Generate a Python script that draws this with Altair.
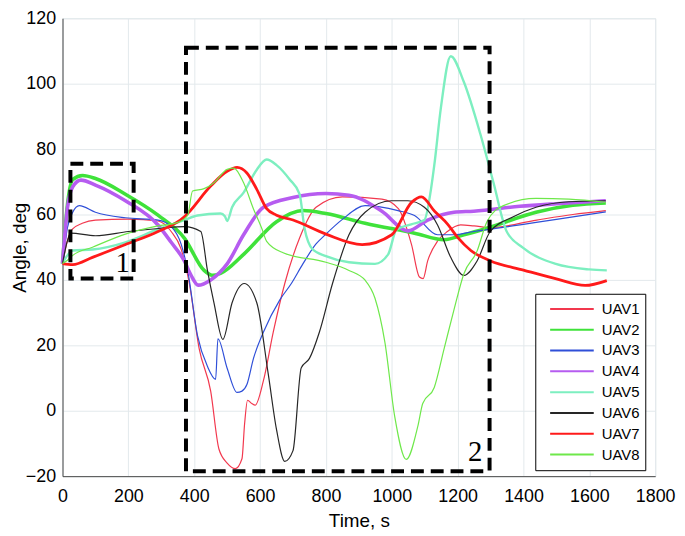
import altair as alt
import pandas as pd

names = ["UAV1", "UAV2", "UAV3", "UAV4", "UAV5", "UAV6", "UAV7", "UAV8"]
colors = ["#f2384e", "#3fe23a", "#2f4fd8", "#b65cf0", "#7defc0", "#262626", "#ff1a1a", "#6ee84a"]
widths = [1.2, 3.6, 1.2, 3.6, 2.4, 1.2, 2.8, 1.2]

uav1_t = [0, 15, 30, 60, 100, 200, 290, 330, 360, 385, 415, 450, 475, 500, 525, 545, 553, 562, 575, 585,
          610, 640, 675, 720, 770, 850, 970, 1020, 1060, 1084, 1095, 1109, 1140, 1169, 1209, 1250, 1300,
          1440, 1550, 1650]
uav1_y = [45, 52, 55.5, 57.3, 58.3, 58.6, 58, 54.8, 49.5, 39, 19, 6, -11.7, -16, -17.7, -14.7, -4, 3.2, 2.2,
          1.7, 9.1, 24, 38.9, 52.8, 62.2, 65.4, 64.7, 61.8, 50.8, 40.9, 40.4, 45.8, 52, 54.8, 56.8, 56.5, 56,
          58.3, 60, 61.2]

uav2_t = [0, 15, 31, 61, 100, 191, 290, 370, 430, 455, 480, 550, 650, 730, 800, 919, 1069, 1159, 1219, 1289,
          1438, 1550, 1650]
uav2_y = [45, 63, 70.7, 71.9, 71, 66.2, 59.8, 52.8, 42.9, 41.4, 42, 47.8, 57.8, 61.2, 60.3, 57.3, 54.3, 52.3,
          53.8, 55.8, 60.7, 62.8, 63.5]

uav3_t = [0, 15, 31, 51, 100, 191, 290, 330, 360, 380, 410, 440, 465, 472, 500, 530, 545, 560, 580, 610, 660,
          695, 730, 770, 800, 850, 919, 1019, 1069, 1139, 1189, 1249, 1300, 1400, 1500, 1650]
uav3_y = [45, 56, 60.7, 62.7, 60.7, 59, 58.3, 56.3, 51, 42.9, 23, 13.6, 9.6, 22, 13, 5.6, 6, 8, 16, 24, 33.9,
          38.9, 44.9, 51, 54, 58.5, 62.7, 61.2, 59.7, 53.8, 53.8, 54.8, 55.5, 57, 58.5, 60.8]

uav4_t = [0, 15, 31, 56, 100, 191, 290, 330, 370, 390, 412, 450, 500, 550, 610, 700, 800, 870, 970, 1049,
          1109, 1189, 1249, 1389, 1500, 1650]
uav4_y = [45, 62, 68.5, 70.5, 69, 64.2, 56.8, 51.5, 45.8, 41.5, 38.4, 40, 44.9, 53.8, 62.2, 65.2, 66.4, 65.9,
          61, 55, 58.3, 60.7, 61, 62.5, 63.3, 64.2]

uav5_t = [0, 15, 31, 91, 191, 290, 370, 410, 480, 493, 500, 515, 550, 590, 620, 650, 690, 720, 735, 760, 800,
          870, 949, 989, 1014, 1059, 1099, 1119, 1129, 1149, 1179, 1219, 1269, 1309, 1349, 1399, 1498, 1600,
          1653]
uav5_y = [45, 47.5, 49, 49.3, 51.5, 55.5, 58.3, 59.7, 60.3, 59.5, 58, 62.2, 66.7, 73.7, 76.8, 75.1, 70.7, 66.2,
          55.8, 49.3, 47.3, 45.4, 44.9, 47.8, 55.3, 57, 58.3, 67.7, 75, 92.5, 108.4, 100.5, 84.6, 69.7, 54.8,
          49.8, 44.9, 43.2, 42.9]

uav6_t = [0, 15, 25, 100, 200, 300, 370, 420, 440, 460, 487, 515, 552, 590, 625, 650, 675, 700, 725, 750, 780,
          820, 870, 919, 999, 1049, 1099, 1139, 1179, 1219, 1259, 1299, 1369, 1438, 1538, 1650]
uav6_y = [45, 52, 54.3, 53.5, 54.8, 55.8, 56.3, 54.8, 43, 33, 21.8, 33, 38.9, 33, 11.1, -5.8, -15.5, -12.2,
          13.1, 16, 24, 38.9, 53.8, 60.7, 64.2, 64.2, 62.2, 56.8, 46.9, 41.4, 45.8, 54.8, 59.3, 62.2, 63.9, 64.2]

uav7_t = [0, 31, 91, 191, 290, 370, 380, 450, 500, 530, 560, 590, 620, 650, 700, 800, 910, 1000, 1060, 1090,
          1130, 1170, 1200, 1240, 1300, 1400, 1500, 1587, 1653]
uav7_y = [45, 44.7, 46.9, 50.8, 54.8, 59.3, 60.3, 68.7, 73.2, 74.4, 72.7, 67.7, 61.8, 59.8, 58.3, 54, 50.8,
          53.8, 63.7, 65.4, 61, 57, 53, 49, 45.8, 43, 40.3, 38.3, 39.8]

uav8_t = [0, 15, 31, 91, 191, 290, 350, 380, 395, 430, 460, 500, 520, 550, 580, 605, 620, 670, 800, 870, 919,
          949, 979, 1009, 1044, 1079, 1094, 1129, 1159, 1189, 1219, 1259, 1289, 1339, 1438, 1538, 1650]
uav8_y = [45, 46, 47.5, 50, 54, 56.5, 57.6, 59.7, 67.2, 67.9, 69.7, 73.8, 74.2, 69.7, 61.7, 55.8, 51.8, 48.3,
          45.4, 42.9, 39.9, 34.4, 21, -1.8, -14.9, -4.8, 2.2, 7.1, 19, 30.9, 41.9, 48.8, 57.8, 62.7, 64.9, 64.7,
          63.7]

series_t = [uav1_t, uav2_t, uav3_t, uav4_t, uav5_t, uav6_t, uav7_t, uav8_t]
series_y = [uav1_y, uav2_y, uav3_y, uav4_y, uav5_y, uav6_y, uav7_y, uav8_y]

# dashed boxes and their labels
box_label = ["1", "2"]
box_x1 = [24, 375]
box_x2 = [216, 1297]
box_y1 = [40.4, -18.5]
box_y2 = [75.5, 111]
label_x = [183, 1253]
label_y = [42.4, -15.5]

x_ticks = list(range(0, 1801, 200))
y_ticks = list(range(-20, 121, 20))

rows = []
for n, w, ts, ys in zip(names, widths, series_t, series_y):
    for t, v in zip(ts, ys):
        rows.append({"uav": n, "w": w, "t": t, "angle": v})
df = pd.DataFrame(rows)

boxes = pd.DataFrame({"name": box_label, "x1": box_x1, "x2": box_x2, "y1": box_y1, "y2": box_y2,
                      "lx": label_x, "ly": label_y})

FONT = "Liberation Sans"
x_scale = alt.Scale(domain=[0, 1800], nice=False, zero=False)
y_scale = alt.Scale(domain=[-20, 120], nice=False, zero=False)

lines = alt.Chart(df).mark_line(interpolate="monotone").encode(
    x=alt.X("t:Q", scale=x_scale,
            axis=alt.Axis(values=x_ticks, format="d", labelOverlap=False, labelFlush=False,
                          title="Time, s", labelPadding=12, titlePadding=6)),
    y=alt.Y("angle:Q", scale=y_scale,
            axis=alt.Axis(values=y_ticks, format="d", labelOverlap=False, labelFlush=False,
                          title="Angle, deg", labelPadding=7, titleX=-33, titleY=231)),
    color=alt.Color("uav:N", scale=alt.Scale(domain=names, range=colors),
                    legend=alt.Legend(title=None, orient="none", legendX=477, legendY=278,
                                      symbolType="stroke", symbolSize=1936, symbolStrokeWidth=2,
                                      clipHeight=20.5, rowPadding=0, padding=5, symbolOffset=9,
                                      labelOffset=7, labelFont=FONT, labelFontSize=15,
                                      labelColor="#000000", strokeColor="#000000", fillColor="#ffffff")),
    strokeWidth=alt.StrokeWidth("w:Q", scale=None),
    order=alt.Order("t:Q"),
)

rects = alt.Chart(boxes).mark_rect(fillOpacity=0, stroke="#000000", strokeWidth=4,
                                   strokeDash=[13, 7]).encode(
    x=alt.X("x1:Q", scale=x_scale), x2="x2:Q",
    y=alt.Y("y1:Q", scale=y_scale), y2="y2:Q",
)

labels = alt.Chart(boxes).mark_text(font="Liberation Serif", fontSize=29, align="center",
                                    baseline="alphabetic", color="#000000").encode(
    x=alt.X("lx:Q", scale=x_scale), y=alt.Y("ly:Q", scale=y_scale), text="name:N"
)

chart = alt.layer(lines, rects, labels).properties(
    width=598, height=462,
    autosize=alt.AutoSizeParams(type="none"),
    padding={"left": 55, "top": 8, "right": 22, "bottom": 53},
).configure_axis(
    labelFont=FONT, labelFontSize=18, labelColor="#000000",
    titleFont=FONT, titleFontSize=19, titleFontWeight="normal", titleColor="#000000",
    domainColor="#4a4a4a", domainWidth=1, ticks=False,
    grid=True, gridColor="#e3e9ec", gridWidth=1,
).configure_view(stroke="#dfe5e8")

chart.save("out.html", embed_options={"renderer": "svg", "actions": False})
